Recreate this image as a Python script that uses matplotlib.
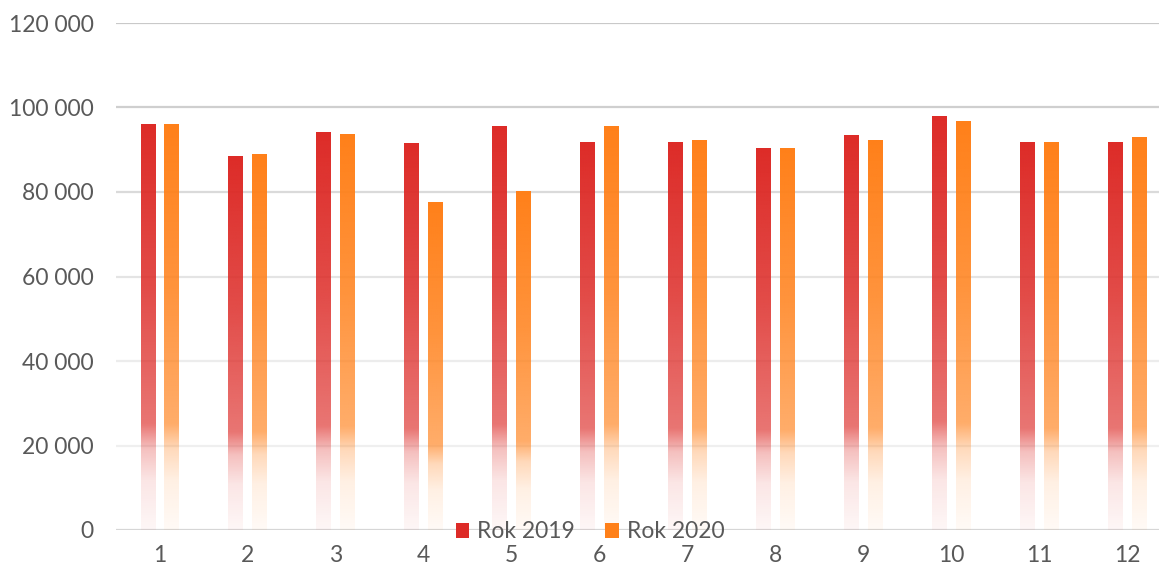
import numpy as np
import matplotlib
matplotlib.use("Agg")
import matplotlib.pyplot as plt
from matplotlib.colors import to_rgb
from matplotlib.patches import Patch

months = [str(i) for i in range(1, 13)]
rok_2019 = [95900, 88300, 94200, 91400, 95400, 91800, 91600, 90400, 93300, 97800, 91800, 91600]
rok_2020 = [95900, 88800, 93700, 77400, 80000, 95600, 92300, 90200, 92100, 96800, 91800, 92800]
series_names = ["Rok 2019", "Rok 2020"]
y_ticks = [0, 20000, 40000, 60000, 80000, 100000, 120000]
y_labels = ["0", "20 000", "40 000", "60 000", "80 000", "100 000", "120 000"]

colors = ["#dd2b27", "#ff8019"]
grid_colors = ["#d6d6d6", "#efefef", "#ececec", "#e4e4e4", "#dadada", "#cfcfcf", "#c9c9c9"]

plt.rcParams['font.family'] = ['Lato', 'DejaVu Sans']

fig = plt.figure(figsize=(11.59, 5.70), dpi=100)
ax = fig.add_axes([116 / 1159, 40 / 570, (1171 - 116) / 1159, 507 / 570])

x = np.arange(len(months))
off = 0.136
w = 0.17


def gradient(color, n=200):
    # top solid, fading toward the bottom of each bar
    f = np.linspace(0, 1, n)  # 0 = top, 1 = bottom
    alpha = np.interp(f, [0, 0.4, 0.74, 0.8, 0.88, 1.0], [1.0, 0.85, 0.65, 0.3, 0.12, 0.04])
    rgba = np.zeros((n, 1, 4))
    rgba[:, 0, :3] = to_rgb(color)
    rgba[:, 0, 3] = alpha
    return rgba


for vals, dx, c in [(rok_2019, -off, colors[0]), (rok_2020, off, colors[1])]:
    bars = ax.bar(x + dx, vals, width=w, color="none", zorder=3)
    img = gradient(c)
    for r in bars:
        ax.imshow(img, extent=[r.get_x(), r.get_x() + r.get_width(), 0, r.get_height()],
                  aspect="auto", origin="upper", zorder=3, interpolation="bilinear")

for yv, gc in zip(y_ticks, grid_colors):
    ax.axhline(yv, color=gc, lw=1.6, zorder=1)

ax.set_xlim(-0.5, 11.5)
ax.set_ylim(0, 120000)
ax.set_xticks(x)
ax.set_xticklabels(months)
ax.set_yticks(y_ticks)
ax.set_yticklabels(y_labels)
ax.tick_params(axis="both", length=0, labelsize=16.5, labelcolor="#595959")
ax.tick_params(axis="y", pad=16)
ax.tick_params(axis="x", pad=11)
for s in ax.spines.values():
    s.set_visible(False)

handles = [Patch(facecolor=colors[0]), Patch(facecolor=colors[1])]
fig.legend(handles, series_names, loc="center", bbox_to_anchor=(590 / 1159, 1 - 532 / 570),
           ncol=2, frameon=False, fontsize=16.5, labelcolor="#595959",
           handlelength=0.6, handleheight=0.6, handletextpad=0.35, columnspacing=1.3)

fig.savefig("out.png", dpi=100)
